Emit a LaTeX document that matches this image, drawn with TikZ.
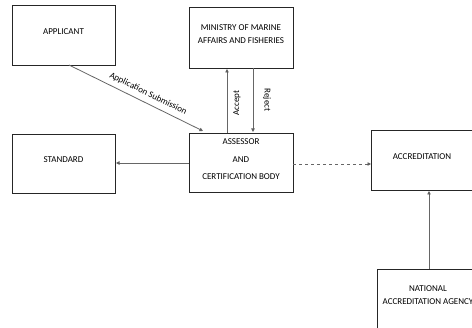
\documentclass[tikz,border=0pt]{standalone}
\usepackage{fontspec}
\setmainfont{Carlito}
\usetikzlibrary{arrows.meta}
\begin{document}
\begin{tikzpicture}[x=1pt,y=-1pt,
  box/.style={draw=black!85,line width=0.8pt,inner sep=0pt},
  lbl/.style={font=\fontsize{9}{12.5}\selectfont,align=center},
  conn/.style={draw=black!60,line width=0.8pt,-{Triangle[length=3.5pt,width=3.5pt,fill=black]}},
  elbl/.style={font=\fontsize{9}{10}\selectfont,inner sep=1pt}]
\clip (0,0) rectangle (472,328);
\fill[white] (0,0) rectangle (472,328);
% boxes
\draw[box] (12,5) rectangle (115,65);
\node[lbl] (app) at (63.5,32) {APPLICANT};
\coordinate (appB) at (69,65);
\draw[box] (189,7) rectangle (293,68);
\node[lbl] (min) at (241,34) {MINISTRY OF MARINE\\AFFAIRS AND FISHERIES};
\draw[box] (12,134) rectangle (115,193);
\node[lbl] (std) at (63.5,160) {STANDARD};
\draw[box] (189,133) rectangle (293,192);
\node[lbl,font=\fontsize{9}{17.5}\selectfont] (ass) at (241,159.5) {ASSESSOR\\AND\\CERTIFICATION BODY};
\draw[box] (371,130) rectangle (474,190);
\node[lbl] (acc) at (422,157) {ACCREDITATION};
\draw[box] (377,269) rectangle (480,340);
\node[lbl] (nat) at (428,295) {NATIONAL\\ACCREDITATION AGENCY};
% coordinates
\coordinate (assTop) at (203,131);
\coordinate (accA) at (227,133);
\coordinate (accB) at (227,69);
\coordinate (rejA) at (253,68);
\coordinate (rejB) at (253,132);
\coordinate (assL) at (189,163);
\coordinate (stdR) at (116,163);
\coordinate (assR) at (293,164);
\coordinate (accL) at (371,164);
\coordinate (natT) at (429,269);
\coordinate (accBot) at (429,191);
% connectors
\draw[conn] (appB) -- node[elbl,sloped,above=4pt,pos=0.56] {Application Submission} (assTop);
\draw[conn] (accA) -- (accB);
\node[elbl,rotate=90] (acclbl) at (237,103) {Accept};
\draw[conn] (rejA) -- (rejB);
\node[elbl,rotate=-90] (rejlbl) at (267,100) {Reject};
\draw[conn] (assL) -- (stdR);
\draw[conn,dashed] (assR) -- (accL);
\draw[conn] (natT) -- (accBot);
\end{tikzpicture}
\end{document}
